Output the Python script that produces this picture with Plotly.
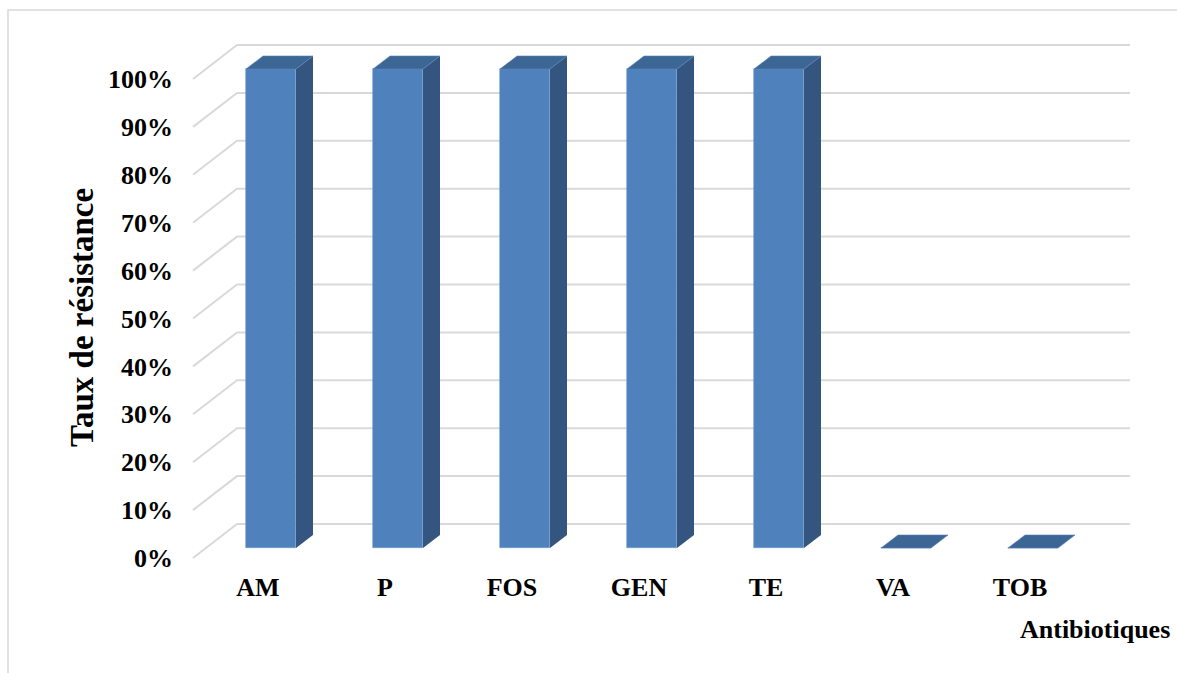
import plotly.graph_objects as go

# Resistance rate (%) per antibiotic
categories = ["AM", "P", "FOS", "GEN", "TE", "VA", "TOB"]
resistance = [100, 100, 100, 100, 100, 0, 0]
y_ticks = [0, 10, 20, 30, 40, 50, 60, 70, 80, 90, 100]

# Figure geometry (pixels)
W, H = 1177, 673
ML, MR, MT, MB = 180, 37, 30, 108
PX_PER_CAT = 127.0     # pixels between categories
PX_PER_PCT = 4.79      # pixels per percent
X0_PX = 258            # pixel of first category on front plane
Y0_PX = 558            # pixel of 0% on front plane

def ux(px):
    return px / PX_PER_CAT

def uy(px):
    return px / PX_PER_PCT

x_range = [(ML - X0_PX) / PX_PER_CAT, (W - MR - X0_PX) / PX_PER_CAT]
y_range = [(Y0_PX - (H - MB)) / PX_PER_PCT, (Y0_PX - MT) / PX_PER_PCT]

# pseudo-3D depth offsets
wall_dx, wall_dy = ux(44), uy(34)        # back wall
bar_dx0, bar_dy0 = ux(13), uy(10)        # bar front plane
bar_ddx, bar_ddy = ux(17), uy(13)        # bar depth
half_w = ux(25)
grid_left = (193 - X0_PX) / PX_PER_CAT
grid_right = (1130 - X0_PX) / PX_PER_CAT

FRONT = "#4F81BD"
SIDE = "#34557F"
TOP = "#3C6694"
GRID = "#D9D9D9"
FONT = "Liberation Serif"

pw = W - ML - MR
ph = H - MT - MB

def px_x(px):
    return (px - ML) / pw

def px_y(py):
    return (H - MB - py) / ph

shapes = [dict(type="rect", xref="paper", yref="paper",
               x0=px_x(8), x1=px_x(W + 10), y0=px_y(H + 10), y1=px_y(10),
               line=dict(color=GRID, width=1.5), fillcolor="rgba(0,0,0,0)",
               layer="below")]

# gridlines on side and back walls (behind the bars)
for t in y_ticks:
    shapes.append(dict(
        type="path", xref="x", yref="y", layer="below",
        path=f"M {grid_left},{t} L {grid_left + wall_dx},{t + wall_dy} L {grid_right},{t + wall_dy}",
        line=dict(color=GRID, width=2)))

fig = go.Figure()

xs = list(range(len(categories)))

# front faces
fig.add_trace(go.Bar(
    x=[i + bar_dx0 for i in xs], y=resistance, base=bar_dy0,
    width=2 * half_w, marker=dict(color=FRONT, line=dict(color="#6E98CC", width=0.6)),
    hovertext=categories, showlegend=False))

# side and top faces
for i, v in zip(xs, resistance):
    xl = i + bar_dx0 - half_w
    xr = i + bar_dx0 + half_w
    yb = bar_dy0
    yt = bar_dy0 + v
    if v > 0:
        fig.add_trace(go.Scatter(
            x=[xr, xr, xr + bar_ddx, xr + bar_ddx, xr],
            y=[yb, yt, yt + bar_ddy, yb + bar_ddy, yb],
            fill="toself", fillcolor=SIDE, mode="lines",
            line=dict(width=0, color=SIDE), hoverinfo="skip", showlegend=False))
    fig.add_trace(go.Scatter(
        x=[xl, xr, xr + bar_ddx, xl + bar_ddx, xl],
        y=[yt, yt, yt + bar_ddy, yt + bar_ddy, yt],
        fill="toself", fillcolor=TOP, mode="lines",
        line=dict(width=0.6, color="#5A82B4"), hoverinfo="skip", showlegend=False))

fig.update_layout(
    width=W, height=H,
    margin=dict(l=ML, r=MR, t=MT, b=MB),
    paper_bgcolor="white", plot_bgcolor="white",
    bargap=0,
    xaxis=dict(range=x_range, tickmode="array", tickvals=xs, ticktext=categories,
               showgrid=False, zeroline=False, showline=False, ticks="",
               tickfont=dict(family=FONT, size=26, color="black", weight="bold"),
               ticklabelstandoff=4, fixedrange=True),
    yaxis=dict(range=y_range, tickmode="array", tickvals=y_ticks,
               ticktext=[f"{t}%" for t in y_ticks],
               showgrid=False, zeroline=False, showline=False, ticks="",
               tickfont=dict(family=FONT, size=26, color="black", weight="bold"),
               ticklabelstandoff=6, fixedrange=True),
    shapes=shapes,
    annotations=[
        dict(text="Taux de résistance", xref="paper", yref="paper",
             x=px_x(82), y=px_y(318), textangle=-90, showarrow=False,
             xanchor="center", yanchor="middle",
             font=dict(family=FONT, size=33, color="black", weight="bold")),
        dict(text="Antibiotiques", xref="paper", yref="paper",
             x=px_x(1095), y=px_y(629), showarrow=False,
             xanchor="center", yanchor="middle",
             font=dict(family=FONT, size=26, color="black", weight="bold")),
    ],
)

fig.write_html("out.html")
